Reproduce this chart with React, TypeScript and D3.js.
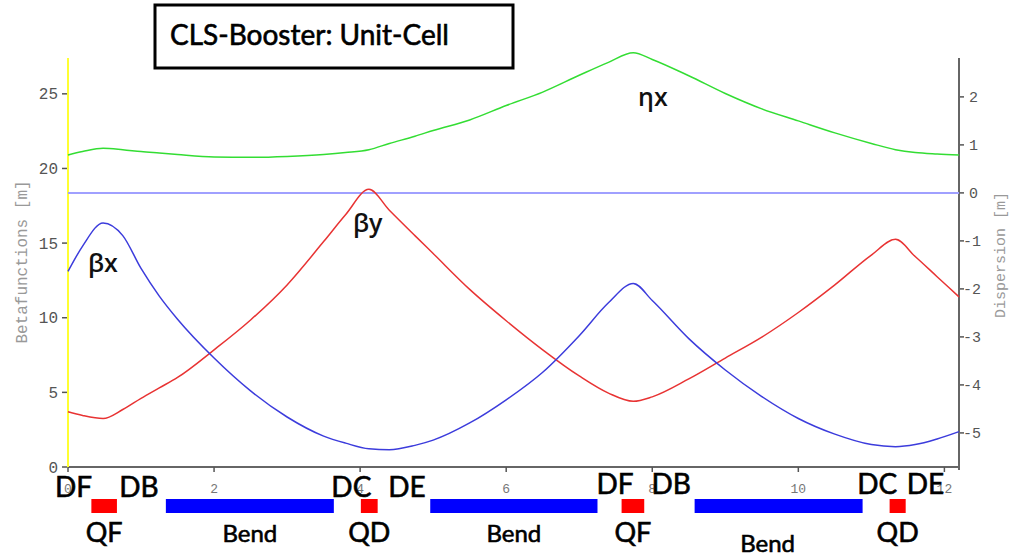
import React from 'react';
import * as d3 from 'd3';

// lattice functions along the unit cell
const sPos = [0, 0.2, 0.48, 0.75, 1.0, 1.25, 1.5, 2.0, 2.5, 3.0, 3.5, 3.8, 4.12, 4.4, 4.75, 5.0, 5.5, 6.0, 6.5, 7.0, 7.4, 7.74, 8.0, 8.5, 9.0, 9.5, 10.0, 10.5, 11.0, 11.33, 11.6, 11.9, 12.2];
const betaX = [13.1, 14.8, 16.35, 15.5, 13.3, 11.45, 9.9, 7.3, 5.1, 3.35, 2.07, 1.6, 1.22, 1.16, 1.45, 1.8, 2.95, 4.5, 6.35, 8.8, 11.0, 12.3, 11.15, 8.6, 6.5, 4.72, 3.25, 2.2, 1.5, 1.36, 1.5, 1.88, 2.37];
const betaY = [3.7, 3.45, 3.25, 3.85, 4.6, 5.3, 6.0, 7.85, 9.85, 12.2, 15.1, 16.9, 18.6, 17.2, 15.5, 14.3, 11.9, 9.8, 7.85, 6.1, 4.95, 4.4, 4.7, 5.9, 7.3, 8.7, 10.35, 12.2, 14.2, 15.25, 14.1, 12.75, 11.4];
const etaX = [0.79, 0.86, 0.93, 0.9, 0.86, 0.83, 0.8, 0.75, 0.74, 0.76, 0.8, 0.84, 0.9, 1.03, 1.18, 1.3, 1.52, 1.82, 2.1, 2.45, 2.72, 2.92, 2.78, 2.44, 2.07, 1.75, 1.5, 1.25, 1.03, 0.9, 0.84, 0.81, 0.79];
const etaYs = [0, 12.2];
const etaY = [0, 0];

// magnets
const magNames = ['QF', 'Bend', 'QD', 'Bend', 'QF', 'Bend', 'QD'];
const magStart = [0.32, 1.34, 4.01, 4.96, 7.58, 8.58, 11.25];
const magEnd = [0.67, 3.64, 4.24, 7.25, 7.89, 10.88, 11.47];

// drift labels
const driftNames = ['DF', 'DB', 'DC', 'DE', 'DF', 'DB', 'DC', 'DE'];
const driftS = [0.075, 0.97, 3.88, 4.64, 7.49, 8.26, 11.08, 11.74];

const W = 1022;
const H = 556;
const mono = "'Liberation Mono', 'DejaVu Sans Mono', monospace";
const sans = "Lato, 'Open Sans', sans-serif";

export default function App() {
  const x = d3.scaleLinear().domain([0, 12.2]).range([68, 959]);
  const yL = d3.scaleLinear().domain([0, 27.4]).range([467, 58]);
  const yR = d3.scaleLinear().domain([-5.71, 2.81]).range([467, 58]);

  const lineL = d3.line<number>()
    .x((_, i) => x(sPos[i]))
    .y(d => yL(d))
    .curve(d3.curveMonotoneX);
  const lineR = d3.line<number>()
    .x((_, i) => x(sPos[i]))
    .y(d => yR(d))
    .curve(d3.curveMonotoneX);
  const zeroLine = d3.line<number>()
    .x((_, i) => x(etaYs[i]))
    .y(d => yR(d));

  const magY = 499;
  const magH = 14;
  const bold = { stroke: '#000', strokeWidth: 0.6 };

  return (
    <svg width={W} height={H} style={{ position: 'absolute', left: 0, top: 0, background: '#fff' }}>
      {/* title box */}
      <rect x={155} y={5} width={358} height={63} fill="#fff" stroke="#000" strokeWidth={3} />
      <text x={170} y={45} fontFamily={sans} fontSize={28} fill="#000" {...bold}>CLS-Booster: Unit-Cell</text>

      {/* axes */}
      <line x1={x(0)} x2={x(12.2)} y1={467} y2={467} stroke="#666" strokeWidth={2} />
      <line x1={959} x2={959} y1={58} y2={470} stroke="#666" strokeWidth={2} />
      <line x1={68} x2={68} y1={58} y2={467} stroke="#ffff33" strokeWidth={2} />

      {yL.ticks(5).map(t => (
        <g key={'l' + t}>
          <line x1={62} x2={67} y1={yL(t)} y2={yL(t)} stroke="#555" strokeWidth={1.5} />
          <text x={58} y={yL(t)} dy="0.35em" textAnchor="end" fontFamily={mono} fontSize={16} fill="#555">{t}</text>
        </g>
      ))}
      {yR.ticks(8).map(t => (
        <g key={'r' + t}>
          <line x1={960} x2={964} y1={yR(t)} y2={yR(t)} stroke="#555" strokeWidth={1.5} />
          <text x={t < 0 ? 963 : 969} y={yR(t)} dy="0.35em" fontFamily={mono} fontSize={15} fill="#555">{t < 0 ? '-' + Math.abs(t) : t}</text>
        </g>
      ))}
      {x.ticks(6).map(t => (
        <g key={'x' + t}>
          <line x1={x(t)} x2={x(t)} y1={467} y2={472} stroke="#555" strokeWidth={1.5} />
          <text x={x(t)} y={493} textAnchor="middle" fontFamily={mono} fontSize={13} fill="#777">{t}</text>
        </g>
      ))}

      <text transform="translate(27,262) rotate(-90)" textAnchor="middle" fontFamily={mono} fontSize={16} fill="#999">Betafunctions [m]</text>
      <text transform="translate(1005,255) rotate(-90)" textAnchor="middle" fontFamily={mono} fontSize={15} fill="#999">Dispersion [m]</text>

      {/* curves */}
      <path d={zeroLine(etaY) || ''} fill="none" stroke="#a0a0ff" strokeWidth={2} />
      <path d={lineR(etaX) || ''} fill="none" stroke="#33dd33" strokeWidth={1.5} />
      <path d={lineL(betaY) || ''} fill="none" stroke="#e83333" strokeWidth={1.5} />
      <path d={lineL(betaX) || ''} fill="none" stroke="#3c3cdc" strokeWidth={1.5} />

      <text x={88} y={272} fontFamily="'Open Sans', sans-serif" fontWeight={600} fontSize={25} fill="#111">βx</text>
      <text x={353} y={232} fontFamily="'Open Sans', sans-serif" fontWeight={600} fontSize={25} fill="#111">βy</text>
      <text x={638} y={106} fontFamily="'Open Sans', sans-serif" fontWeight={600} fontSize={25} fill="#111">ηx</text>

      {/* magnets */}
      {magNames.map((n, i) => (
        <g key={'m' + i}>
          <rect x={x(magStart[i])} y={magY} width={x(magEnd[i]) - x(magStart[i])} height={magH} fill={n === 'Bend' ? '#0000ff' : '#ff0000'} />
          <text x={i === 5 ? x((magStart[i] + magEnd[i]) / 2) - 11 : x((magStart[i] + magEnd[i]) / 2)} y={i === 5 ? 552 : 542}
            textAnchor="middle" fontFamily={sans} fontSize={n === 'Bend' ? 24 : 27} fill="#000" {...bold}>{n}</text>
        </g>
      ))}
      {driftNames.map((n, i) => (
        <text key={'d' + i} x={x(driftS[i])} y={i < 4 ? 497 : 494} textAnchor="middle" fontFamily={sans} fontSize={28} fill="#000" {...bold}>{n}</text>
      ))}
    </svg>
  );
}
